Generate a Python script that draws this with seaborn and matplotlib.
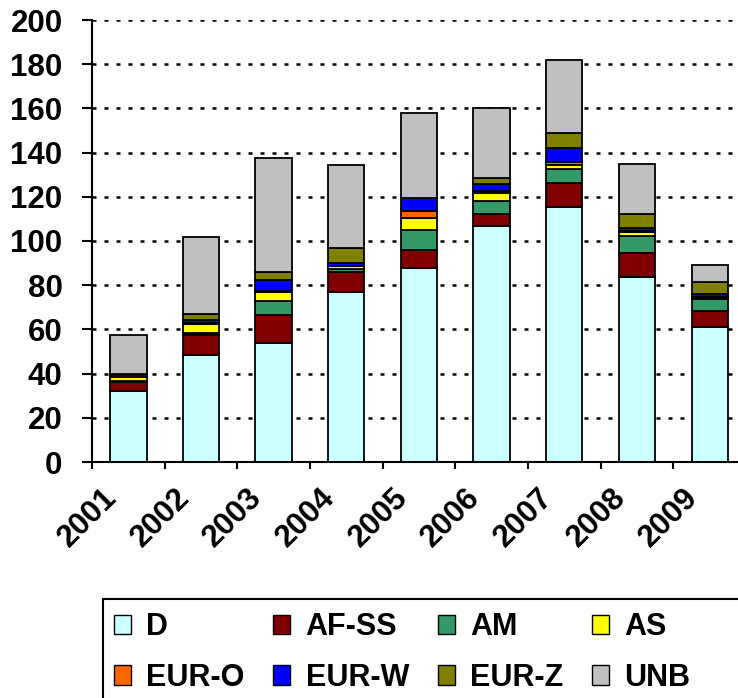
import numpy as np
import pandas as pd
import seaborn as sns
import matplotlib
matplotlib.use("Agg")
import matplotlib.pyplot as plt
from matplotlib.patches import Patch, Rectangle
import matplotlib.transforms as mtrans

# ---- data ----
years = ["2001", "2002", "2003", "2004", "2005", "2006", "2007", "2008", "2009"]
D     = [32.0, 48.2, 54.0, 77.0, 88.0, 107.0, 115.2, 83.7, 61.0]
AF_SS = [4.2, 9.3, 12.5, 9.0, 8.0, 5.0, 10.9, 10.8, 7.1]
AM    = [0.6, 0.8, 6.5, 1.5, 9.0, 6.0, 6.4, 7.8, 5.5]
AS    = [1.6, 4.2, 4.0, 1.2, 5.3, 3.5, 1.8, 1.8, 0.6]
EUR_O = [0.0, 0.4, 0.5, 0.0, 3.3, 1.2, 1.6, 0.5, 0.4]
EUR_W = [0.4, 1.2, 5.0, 1.5, 6.0, 3.2, 6.4, 1.4, 1.4]
EUR_Z = [1.2, 2.9, 3.5, 6.5, 0.0, 2.5, 6.4, 6.1, 5.6]
UNB   = [17.5, 35.0, 51.5, 37.5, 38.5, 32.0, 33.2, 22.9, 7.5]

series_names = ["D", "AF-SS", "AM", "AS", "EUR-O", "EUR-W", "EUR-Z", "UNB"]
series_vals = [D, AF_SS, AM, AS, EUR_O, EUR_W, EUR_Z, UNB]
colors = ["#CCFFFF", "#800000", "#339966", "#FFFF00",
          "#FF6600", "#0000FF", "#808000", "#C0C0C0"]
y_ticks = list(range(0, 201, 20))

# ---- style ----
sns.set_theme(style="white")
plt.rcParams["font.family"] = ["Liberation Sans", "DejaVu Sans"]
plt.rcParams["font.weight"] = "bold"
plt.rcParams["text.color"] = "black"
plt.rcParams["xtick.color"] = "black"
plt.rcParams["ytick.color"] = "black"
plt.rcParams["xtick.labelcolor"] = "black"
plt.rcParams["ytick.labelcolor"] = "black"

W, H = 738, 698
fig = plt.figure(figsize=(W / 100, H / 100), dpi=100)
ax = fig.add_axes([92 / W, 1 - 462 / H, (746 - 92) / W, (462 - 20) / H])

bottom = np.zeros(len(years))
for name, vals, col in zip(series_names, series_vals, colors):
    df = pd.DataFrame({"year": years, "value": vals})
    sns.barplot(data=df, x="year", y="value", order=years, color=col,
                saturation=1, bottom=bottom.copy(), width=0.5,
                edgecolor="black", linewidth=1.3, errorbar=None, ax=ax,
                zorder=3)
    bottom += np.array(vals)

ax.set_xlim(-0.5, len(years) - 0.5)
ax.set_ylim(0, 200)
ax.set_xlabel("")
ax.set_ylabel("")

# grid
ax.set_axisbelow(True)
ax.yaxis.grid(True, color="black", linestyle=(0, (1.6, 3.2)), linewidth=1.8)
ax.xaxis.grid(False)

# spines
for s in ["top", "right"]:
    ax.spines[s].set_visible(False)
for s in ["left", "bottom"]:
    ax.spines[s].set_color("black")
    ax.spines[s].set_linewidth(1.5)
    ax.spines[s].set_zorder(4)

# y ticks
ax.set_yticks(y_ticks)
ax.set_yticklabels([str(v) for v in y_ticks], fontsize=22.5,
                   fontweight="bold", color="black")
ax.tick_params(axis="y", which="major", direction="out", length=7.2,
               width=1.5, color="black", pad=14, left=True)

# x ticks: boundaries as minor ticks, labels as text
ax.set_xticks(np.arange(-0.5, len(years), 1.0), minor=True)
ax.set_xticks(range(len(years)))
ax.set_xticklabels([])
ax.tick_params(axis="x", which="minor", direction="out", length=5,
               width=1.5, color="black", bottom=True)
ax.tick_params(axis="x", which="major", length=0)

offset = mtrans.ScaledTranslation(-16 / 100, -31 / 100, fig.dpi_scale_trans)
for i, yr in enumerate(years):
    ax.text(i, 0, yr, transform=ax.get_xaxis_transform() + offset,
            rotation=45, rotation_mode="anchor", ha="right", va="center",
            fontsize=22.5, fontweight="bold", color="black", clip_on=False)

# legend
order = [0, 4, 1, 5, 2, 6, 3, 7]
handles = [Patch(facecolor=colors[k], edgecolor="black", linewidth=1.0,
                 label=series_names[k]) for k in order]
leg = fig.legend(handles=handles, ncol=4, loc="upper left",
                 bbox_to_anchor=(114 / W, 1 - 612 / H),
                 bbox_transform=fig.transFigure,
                 frameon=False, borderpad=0, borderaxespad=0,
                 prop={"size": 22, "weight": "bold"},
                 handlelength=0.55, handleheight=0.6, handletextpad=0.5,
                 columnspacing=0.95, labelspacing=0.68)
for t in leg.get_texts():
    t.set_color("black")
fig.add_artist(Rectangle((103 / W, 1 - 740 / H), (780 - 103) / W, (740 - 599) / H,
                         transform=fig.transFigure, fill=False,
                         edgecolor="black", linewidth=1.5))

fig.savefig("out.png", dpi=100)
